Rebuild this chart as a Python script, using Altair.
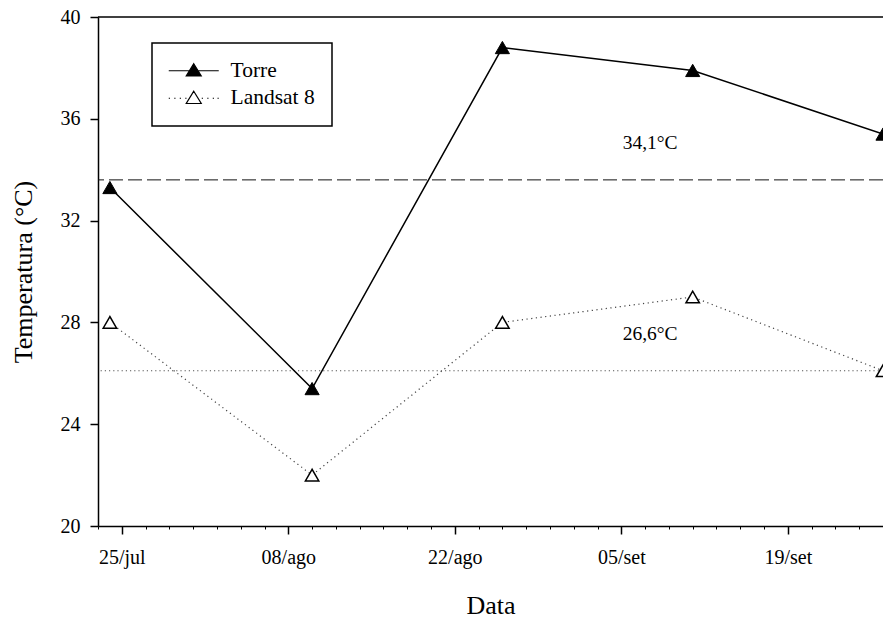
import altair as alt
import pandas as pd

# ---- data ----
dates = ["2014-07-24", "2014-08-10", "2014-08-26", "2014-09-11", "2014-09-27"]
torre = [33.3, 25.4, 38.8, 37.9, 35.4]
landsat = [28.0, 22.0, 28.0, 29.0, 26.1]
series = ["Torre", "Landsat 8"]

mean_line_values = [33.6, 26.1]
mean_labels = ["34,1°C", "26,6°C"]
mean_label_dates = ["2014-09-07", "2014-09-07"]
mean_label_y = [35.05, 27.55]

x_domain = ["2014-07-23", "2014-09-27"]
first_major = "2014-07-25"
y_ticks = [20, 24, 28, 32, 36, 40]
months = ["jan", "fev", "mar", "abr", "mai", "jun", "jul", "ago", "set", "out", "nov", "dez"]


def ms(d):
    return int(pd.Timestamp(d, tz="UTC").timestamp() * 1000)


x_tick_values = [ms(d) for d in pd.date_range(x_domain[0], x_domain[1], freq="2D").strftime("%Y-%m-%d")]
t0 = ms(first_major)
is_major = f"(round((+datum.value - {t0}) / 86400000) % 14 === 0)"
month_arr = "[" + ",".join(f"'{m}'" for m in months) + "]"
label_expr = f"{is_major} ? (utcFormat(datum.value, '%d') + '/' + {month_arr}[utcmonth(datum.value)]) : ''"

df = pd.DataFrame({
    "date": dates + dates,
    "temp": torre + landsat,
    "serie": [series[0]] * len(dates) + [series[1]] * len(dates),
})
labels_df = pd.DataFrame({"date": mean_label_dates, "temp": mean_label_y, "label": mean_labels})
dash_df = pd.DataFrame({"temp": [mean_line_values[0]]})
dot_df = pd.DataFrame({"temp": [mean_line_values[1]]})
top_df = pd.DataFrame({"temp": [y_ticks[-1]]})

FONT = "Liberation Serif"

x_scale = alt.Scale(type="utc", domain=[ms(x_domain[0]), ms(x_domain[1])])
y_scale = alt.Scale(domain=[y_ticks[0], y_ticks[-1]], zero=False, nice=False)

x_enc = alt.X(
    "date:T",
    scale=x_scale,
    axis=alt.Axis(
        values=x_tick_values,
        tickCount=500,
        labelExpr=label_expr,
        tickSize={"condition": {"test": is_major, "value": 8}, "value": 3},
        tickWidth={"condition": {"test": is_major, "value": 1.5}, "value": 1},
        labelPadding=13,
        title="Data",
        titlePadding=25,
        grid=False,
        labelOverlap=False,
    ),
)
y_enc = alt.Y(
    "temp:Q",
    scale=y_scale,
    axis=alt.Axis(values=y_ticks, title="Temperatura (°C)", tickSize=8, tickWidth=1.5,
                  labelPadding=10, titlePadding=24, grid=False),
)

base = alt.Chart(df).encode(x=x_enc, y=y_enc)

torre_path = "M-2.2,0H1.97M3.63,0H7.8M2.8,-1.4L4.3,1.05L1.3,1.05Z"
landsat_path = ("M-2.2,0h0.25M-1.1,0h0.25M0,0h0.25M1.1,0h0.25"
                "M4.4,0h0.25M5.5,0h0.25M6.6,0h0.25M7.55,0h0.25"
                "M2.8,-1.4L4.3,1.05L1.3,1.05Z")

ref_dash = alt.Chart(dash_df).mark_rule(color="#111", strokeWidth=1, strokeDash=[14, 5]).encode(y=y_enc)
ref_dot = alt.Chart(dot_df).mark_rule(color="#555", strokeWidth=1.2, strokeDash=[1.2, 3]).encode(y=y_enc)
top_border = alt.Chart(top_df).mark_rule(color="black", strokeWidth=1.5).encode(y=y_enc)

torre_line = base.transform_filter(alt.datum.serie == series[0]).mark_line(color="black", strokeWidth=1.5)
landsat_line = base.transform_filter(alt.datum.serie == series[1]).mark_line(
    color="#444", strokeWidth=1.2, strokeDash=[1.2, 3.5])
torre_pts = base.transform_filter(alt.datum.serie == series[0]).mark_point(
    shape="triangle-up", size=200, filled=True, fill="black", stroke="black", strokeWidth=1, opacity=1)
landsat_pts = base.transform_filter(alt.datum.serie == series[1]).mark_point(
    shape="triangle-up", size=180, filled=True, fill="white", stroke="black", strokeWidth=1.5, opacity=1)

legend = alt.Legend(
    title=None, orient="none", legendX=54, legendY=26, strokeColor="black", padding=17,
    labelFont=FONT, labelFontSize=21.5, labelColor="black", labelOffset=40,
    symbolSize=100, symbolStrokeWidth=1.2, symbolStrokeColor="black", symbolOpacity=1,
    rowPadding=4.5, labelLimit=300,
)
legend_layer = base.mark_point(filled=False, size=0, strokeWidth=1.2).encode(
    shape=alt.Shape("serie:N", scale=alt.Scale(domain=series, range=[torre_path, landsat_path]), legend=legend),
    fill=alt.Fill("serie:N", scale=alt.Scale(domain=series, range=["black", "white"]), legend=legend),
    stroke=alt.Stroke("serie:N", scale=alt.Scale(domain=series, range=["black", "black"]), legend=legend),
)

texts = alt.Chart(labels_df).mark_text(font=FONT, fontSize=19.5, color="black", align="center",
                                       baseline="middle", dx=5).encode(
    x=x_enc, y=y_enc, text="label:N")

chart = alt.layer(
    ref_dash, ref_dot, top_border, torre_line, landsat_line, torre_pts, landsat_pts, legend_layer, texts
).properties(
    width=785, height=509,
    background="white",
    padding={"left": 98, "top": 17, "right": 0, "bottom": 92},
    autosize=alt.AutoSizeParams(type="none"),
).configure_view(stroke=None).configure_axis(
    domainColor="black", domainWidth=1.5, tickColor="black",
    labelFont=FONT, labelFontSize=20, labelColor="black",
    titleFont=FONT, titleFontSize=26, titleColor="black", titleFontWeight="normal",
).configure_legend(
    strokeWidth=1.5, labelFont=FONT, labelFontSize=21.5, labelColor="black",
    symbolStrokeColor="black", symbolStrokeWidth=1.2,
)

chart.save("out.html", embed_options={"renderer": "svg", "actions": False})
